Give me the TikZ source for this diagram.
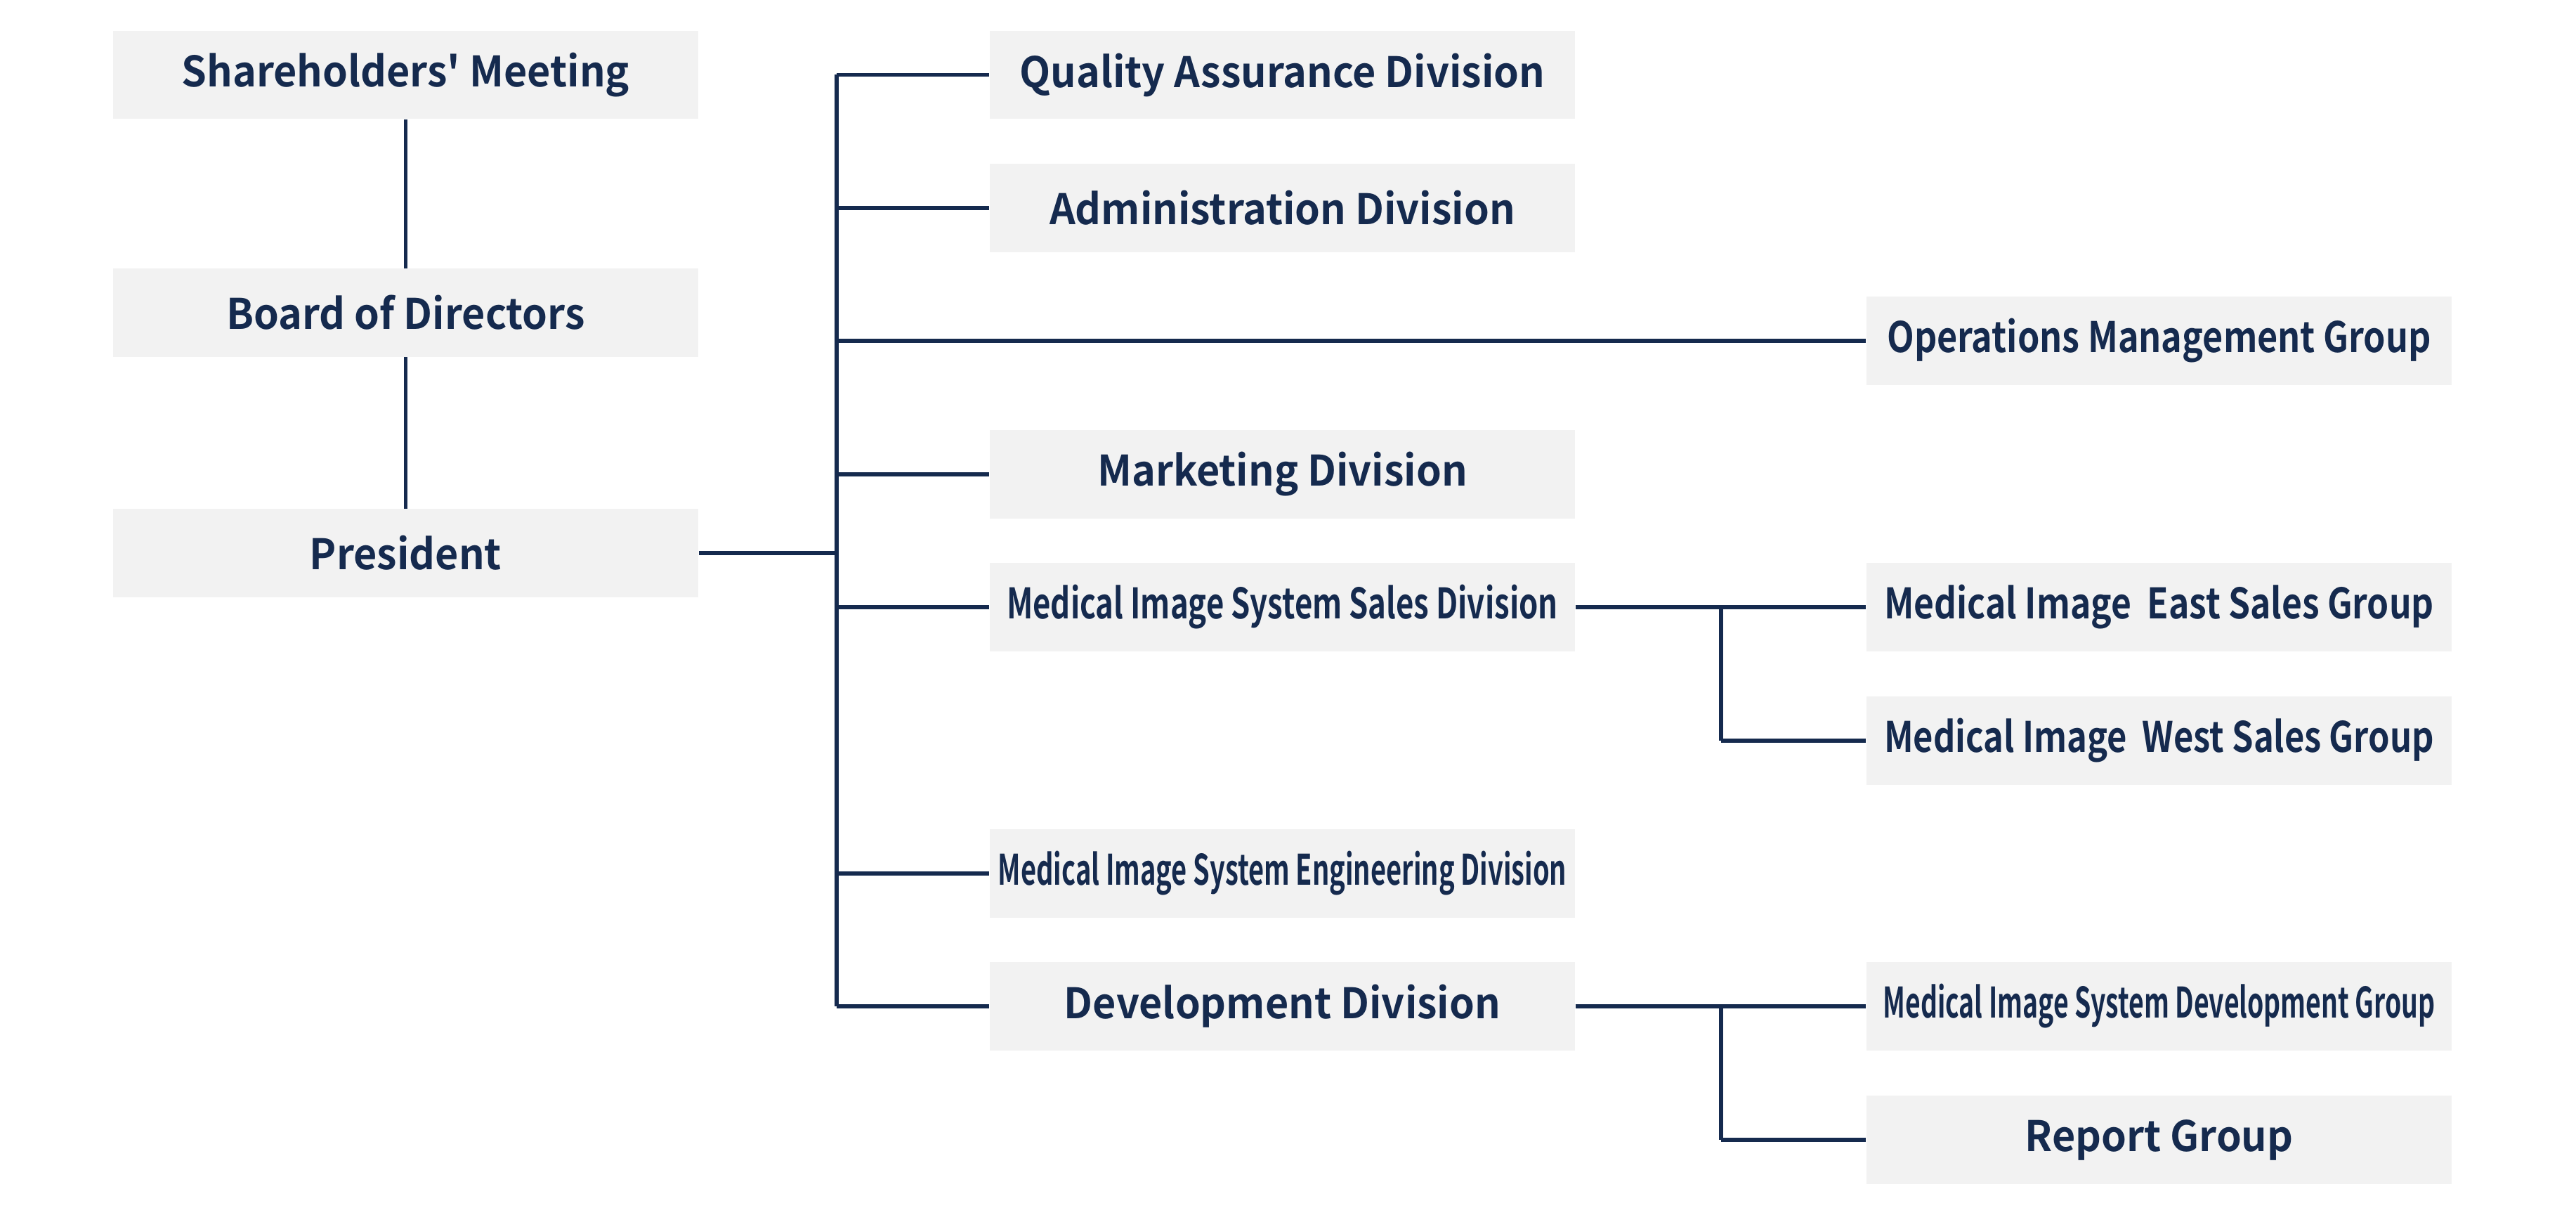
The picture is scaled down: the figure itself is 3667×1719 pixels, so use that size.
\documentclass[tikz,border=0pt]{standalone}
\usepackage{fontspec}
\setmainfont{Noto Sans CJK JP}[BoldFont={Noto Sans CJK JP Bold},Ligatures=TeXOff,FakeStretch=0.96]
\usepackage{graphicx}
\usepackage{xcolor}
\definecolor{orgnavy}{HTML}{152A4E}
\definecolor{orgbox}{HTML}{F2F2F2}
\newcommand{\squeeze}[2]{\resizebox{#1}{\height}{#2}}

\begin{document}
\begin{tikzpicture}[x=0.01cm,y=-0.01cm]
        \tikzset{
        org node/.style={rectangle,fill=orgbox,minimum width=8.33cm,minimum height=1.25cm,inner sep=0,
          text=orgnavy,font=\fontsize{17}{20}\selectfont\bfseries},
        org edge/.style={draw=orgnavy,line width=1.6pt}
        }
        \useasboundingbox (0,0) rectangle (3667,1719);
        % left column
        \node[org node] (sh) at (577.5,106.5) {Shareholders' Meeting};
        \node[org node] (bd) at (577.5,445) {Board of Directors};
        \node[org node] (pr) at (577.5,787) {President};
        % divisions
        \node[org node] (qa) at (1825.5,106.5) {Quality Assurance Division};
        \node[org node] (ad) at (1825.5,296) {Administration Division};
        \node[org node] (mk) at (1825.5,675) {Marketing Division};
        \node[org node] (sa) at (1825.5,864) {\squeeze{7.84cm}{Medical Image System Sales Division}};
        \node[org node] (en) at (1825.5,1243) {\squeeze{8.09cm}{Medical Image System Engineering Division}};
        \node[org node] (dv) at (1825.5,1432) {Development Division};
        % groups
        \node[org node] (op) at (3073.5,485) {\squeeze{7.74cm}{Operations Management Group}};
        \node[org node] (es) at (3073.5,864) {\squeeze{7.82cm}{Medical Image\ \ East Sales Group}};
        \node[org node] (ws) at (3073.5,1054) {\squeeze{7.82cm}{Medical Image\ \ West Sales Group}};
        \node[org node] (dg) at (3073.5,1432) {\squeeze{7.85cm}{Medical Image System Development Group}};
        \node[org node] (rp) at (3073.5,1622) {Report Group};

        % junctions
        \coordinate (t0) at (1191,106.5);
        \coordinate (t1) at (1191,296);
        \coordinate (t2) at (1191,485);
        \coordinate (t3) at (1191,675);
        \coordinate (tp) at (1191,787);
        \coordinate (t4) at (1191,864);
        \coordinate (t5) at (1191,1243);
        \coordinate (t6) at (1191,1432);
        \coordinate (s0) at (2450,864);
        \coordinate (s1) at (2450,1054);
        \coordinate (d0) at (2450,1432);
        \coordinate (d1) at (2450,1622);

        \path[org edge]
        (sh) edge (bd)
        (bd) edge (pr)
        (pr) edge (tp)
        (t0) edge (t6)
        (t0) edge (qa)
        (t1) edge (ad)
        (t2) edge (op)
        (t3) edge (mk)
        (t4) edge (sa)
        (t5) edge (en)
        (t6) edge (dv)
        (sa) edge (es)
        (s0) edge (s1)
        (s1) edge (ws)
        (dv) edge (dg)
        (d0) edge (d1)
        (d1) edge (rp)
        ;
    \end{tikzpicture}
\end{document}
